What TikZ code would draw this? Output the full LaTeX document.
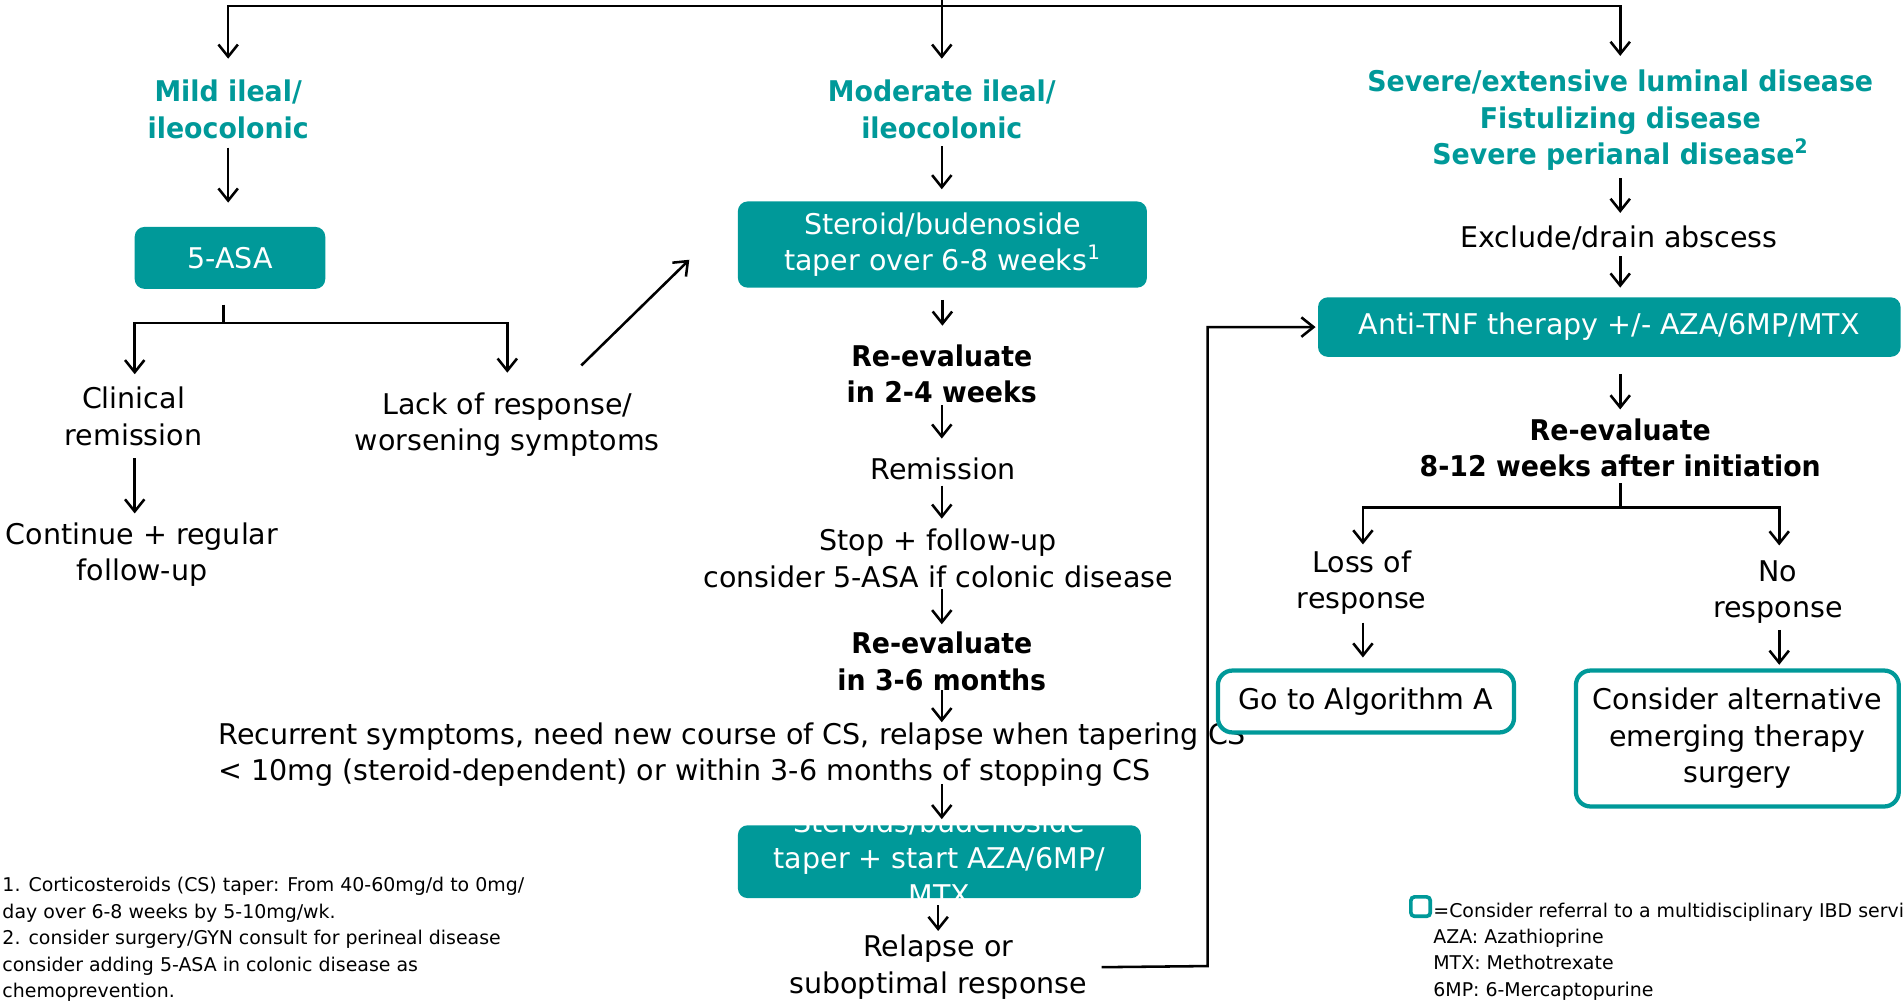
\documentclass[tikz,border=0pt]{standalone}
\usepackage{fontspec}
\setmainfont{DejaVu Sans}[BoldFeatures={FakeStretch=0.94}]
\usepackage{tikz}
\usetikzlibrary{arrows.meta}
\definecolor{ibdteal}{RGB}{0,153,153}

\begin{document}
\begin{tikzpicture}[x=1pt, y=-1pt, line width=2.1pt,
    arr/.style={-{Straight Barb[length=10pt,width=16pt]}},
    txt/.style={align=center, inner sep=4pt, font=\fontsize{23.5}{30}\selectfont},
    cat/.style={txt, text=ibdteal, font=\fontsize{23.5}{30}\selectfont\bfseries},
    reeval/.style={txt, font=\fontsize{23.5}{30}\selectfont\bfseries},
    fillbox/.style={txt, fill=ibdteal, text=white, rounded corners=8pt},
    linebox/.style={txt, draw=ibdteal, fill=white, line width=3.5pt, rounded corners=12pt},
    note/.style={align=left, inner sep=4pt, font=\fontsize{15.6}{21.8}\selectfont}]
    \useasboundingbox (0,0) rectangle (1568,824);
    \clip (0,0) rectangle (1568,824);

    % Disease categories
    \node[cat] (mild) at (188,90) {Mild ileal/\\ileocolonic};
    \node[cat] (moderate) at (776,90) {Moderate ileal/\\ileocolonic};
    \node[cat] (severe) at (1335,99) {Severe/extensive luminal disease\\Fistulizing disease\\Severe perianal disease\textsuperscript{2}};

    % Mild column
    \node[fillbox, minimum width=157pt, minimum height=51pt] (asa) at (189.5,212.5) {5-ASA};
    \node[txt] (clin) at (110,343) {Clinical\\remission};
    \node[txt] (cont) at (117,457) {Continue + regular\\follow-up};
    \node[txt] (lack) at (418,350) {Lack of response/\\worsening symptoms};

    % Moderate column
    \node[fillbox, minimum width=337pt, minimum height=71pt] (steroid) at (776.5,201.5) {Steroid/budenoside\\taper over 6-8 weeks\textsuperscript{1}};
    \node[reeval] (reevalA) at (776,308) {Re-evaluate\\in 2-4 weeks};
    \node[txt] (remis) at (777,386) {Remission};
    \node[txt] (stop) at (773,460) {Stop + follow-up\\consider 5-ASA if colonic disease};
    \node[reeval] (reevalB) at (776,545) {Re-evaluate\\in 3-6 months};
    \node[txt, align=left, anchor=west] (recur) at (175,622) {Recurrent symptoms, need new course of CS, relapse when tapering CS\\< 10mg (steroid-dependent) or within 3-6 months of stopping CS};
    \node[fillbox, minimum width=332pt, minimum height=60pt] (steroidaza) at (774,710)
        {\raisebox{-6pt}[0pt][0pt]{\begin{tabular}{@{}c@{}}Steroids/budenoside\\taper + start AZA/6MP/\\MTX\end{tabular}}};
    \node[txt] (relapse) at (773,797) {Relapse or\\suboptimal response};

    % Severe column
    \node[txt] (absc) at (1334,196) {Exclude/drain abscess};
    \node[fillbox, minimum width=480pt, minimum height=49pt] (antitnf) at (1326,269.5) {Anti-TNF therapy +/- AZA/6MP/MTX};
    \node[reeval] (reevalC) at (1335,369) {Re-evaluate\\8-12 weeks after initiation};
    \node[txt] (loss) at (1122,480) {Loss of\\response};
    \node[txt] (nores) at (1465,488) {No\\response};
    \node[linebox, minimum width=244pt, minimum height=51pt] (algo) at (1125.5,578) {Go to Algorithm A};
    \node[linebox, minimum width=266pt, minimum height=112pt] (alt) at (1431.5,608.5) {Consider alternative\\emerging therapy\\surgery};

    % Footnotes and legend
    \node[note, anchor=west] (foot) at (-3,774) {1. Corticosteroids (CS) taper: From 40-60mg/d to 0mg/\\day over 6-8 weeks by 5-10mg/wk.\\2. consider surgery/GYN consult for perineal disease\\consider adding 5-ASA in colonic disease as\\chemoprevention.};
    \node[draw=ibdteal, line width=3pt, rounded corners=3pt, minimum size=16pt, inner sep=0pt] (legsq) at (1170.5,747) {};
    \node[note, anchor=west] (legend) at (1176,784) {=Consider referral to a multidisciplinary IBD servi\\AZA: Azathioprine\\MTX: Methotrexate\\6MP: 6-Mercaptopurine};

    % Top fork
    \coordinate (src) at (776,-20);
    \coordinate (fork) at (776,5);
    \draw (src) -- (fork);
    \draw[arr, shorten >=12.5pt] (fork) -| (mild.north);
    \draw[arr, shorten >=12.5pt] (fork) -- (fork |- moderate.north);
    \draw[arr, shorten >=6.5pt] (fork) -| (severe.north);

    % Mild arrows
    \coordinate (asafork) at (184,266);
    \draw[arr, shorten <=2.5pt, shorten >=19pt] (mild.south) -- (mild.south |- asa.north);
    \draw[shorten <=12pt] (asa.south -| asafork) -- (asafork);
    \draw[arr, shorten >=5.5pt] (asafork) -| ([xshift=1pt]clin.north);
    \draw[arr, shorten >=11.5pt] (asafork) -| (lack.north);
    \draw[arr, shorten <=5.5pt, shorten >=2.5pt] ([xshift=1pt]clin.south) -- ([xshift=1pt]clin.south |- cont.north);
    \draw[arr] ([xshift=61pt,yshift=17.5pt]lack.north) -- ([xshift=-39pt,yshift=-12.5pt]steroid.west);

    % Moderate arrows
    \draw[arr, shorten <=1.5pt, shorten >=9pt] (moderate.south) -- (moderate.south |- steroid.north);
    \draw[arr, shorten <=9pt, shorten >=10.5pt] (steroid.south) -- (steroid.south |- reevalA.north);
    \draw[arr, shorten <=-3.5pt, shorten >=10.5pt] (reevalA.south) -- (reevalA.south |- remis.north);
    \draw[arr, shorten >=3.5pt] (remis.south -| reevalA.south) -- (reevalA.south |- stop.north);
    \draw[arr, shorten <=-3.5pt, shorten >=1.5pt] (stop.south -| reevalB.south) -- (reevalB.south |- reevalB.north);
    \draw[arr, shorten <=-5.5pt, shorten >=-4.5pt] (reevalB.south) -- (reevalB.south |- recur.north);
    \draw[arr, shorten <=-7.5pt, shorten >=4pt] (recur.south -| reevalB.south) -- (reevalB.south |- steroidaza.north);
    \draw[arr, shorten <=5pt, shorten >=-1.5pt] (steroidaza.south -| relapse.north) -- (relapse.north);
    \coordinate (loop) at (995,796);
    \draw[arr, shorten <=7pt, shorten >=1pt] (relapse.east) -- (loop) |- (antitnf.west);

    % Severe arrows
    \draw[arr, shorten <=1.5pt, shorten >=5.5pt] (severe.south) -- (severe.south |- absc.north);
    \draw[arr, shorten >=7pt] (absc.south -| severe.south) -- (severe.south |- antitnf.north);
    \draw[arr, shorten <=13pt, shorten >=2.5pt] (antitnf.south -| reevalC.south) -- (reevalC.north |- reevalC.north);
    \coordinate (tnffork) at (1335,418);
    \draw (reevalC.south) -- (tnffork);
    \draw[arr] (tnffork) -| ([xshift=1pt]loss.north);
    \draw[arr, shorten >=7.5pt] (tnffork) -| ([xshift=1pt]nores.north);
    \draw[arr, shorten <=1.5pt, shorten >=9pt] ([xshift=1pt]loss.south) -- ([xshift=1pt]loss.south |- algo.north);
    \draw[arr, shorten >=3pt] ([xshift=1pt]nores.south) -- ([xshift=1pt]nores.south |- alt.north);
\end{tikzpicture}
\end{document}
